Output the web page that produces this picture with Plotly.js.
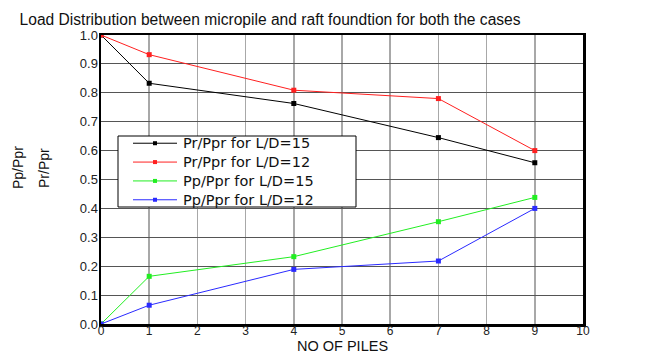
<!DOCTYPE html>
<html>
<head>
<meta charset="utf-8">
<script src="https://cdn.plot.ly/plotly-3.0.1.min.js"></script>
<style>
  html, body { margin: 0; padding: 0; background: #fff; }
  #chart { width: 652px; height: 353px; }
</style>
</head>
<body>
<div id="chart"></div>
<script>
// Number of piles and load shares (raft share Pr/Ppr, pile share Pp/Ppr)
const piles = [0, 1, 4, 7, 9];
const prLD15 = [1.0, 0.833, 0.763, 0.645, 0.558];
const prLD12 = [1.0, 0.932, 0.809, 0.780, 0.600];
const ppLD15 = [0.0, 0.165, 0.233, 0.354, 0.438];
const ppLD12 = [0.0, 0.065, 0.189, 0.218, 0.400];

const seriesNames = [
  'Pr/Ppr for L/D=15',
  'Pr/Ppr for L/D=12',
  'Pp/Ppr for L/D=15',
  'Pp/Ppr for L/D=12'
];
const seriesValues = [prLD15, prLD12, ppLD15, ppLD12];
const seriesColors = ['#000000', '#ff2020', '#22ee22', '#2a2aff'];

const traces = seriesValues.map((vals, i) => ({
  x: piles,
  y: vals,
  name: seriesNames[i],
  type: 'scatter',
  mode: 'lines+markers',
  line: { color: seriesColors[i], width: 1 },
  marker: { symbol: 'square', size: 5, color: seriesColors[i] },
  showlegend: false
}));

// Plot area in pixels, used to place the boxed key in paper units
const M = { l: 101, r: 69, t: 35, b: 29 };
const W = 652, H = 353;
const plotW = W - M.l - M.r, plotH = H - M.t - M.b;
const px = v => (v - M.l) / plotW;
const py = v => (H - M.b - v) / plotH;

const sansFont = 'Liberation Sans, Arial, sans-serif';

// Boxed key: frame, then one sample line + square marker per text row
const keyBox = { left: 118, top: 136, right: 356, bottom: 207 };
const keyFontSize = 14.5;
const keyLineH = keyFontSize * 1.3;
const keyMid = (keyBox.top + keyBox.bottom) / 2;
const keyRows = seriesNames.map((_, i) => keyMid + (i - 1.5) * keyLineH);

const shapes = [{
  type: 'rect', xref: 'paper', yref: 'paper', layer: 'above',
  x0: px(keyBox.left), x1: px(keyBox.right),
  y0: py(keyBox.bottom), y1: py(keyBox.top),
  fillcolor: '#ffffff', line: { color: '#000000', width: 1 }
}];
seriesNames.forEach((name, i) => {
  const yy = py(keyRows[i]);
  shapes.push({
    type: 'line', xref: 'paper', yref: 'paper', layer: 'above',
    x0: px(133), x1: px(177), y0: yy, y1: yy,
    line: { color: seriesColors[i], width: 1 }
  });
  shapes.push({
    type: 'rect', xref: 'paper', yref: 'paper', layer: 'above',
    xsizemode: 'pixel', ysizemode: 'pixel',
    xanchor: px(155), yanchor: yy,
    x0: -2, x1: 2, y0: -2, y1: 2,
    fillcolor: seriesColors[i], line: { width: 0 }
  });
});

const annotations = [
  {
    // key labels, one per line
    xref: 'paper', yref: 'paper', x: px(182), y: py(keyMid),
    xanchor: 'left', yanchor: 'middle', align: 'left', showarrow: false,
    borderpad: 0,
    text: seriesNames.join('<br>'),
    font: { family: 'DejaVu Sans, sans-serif', size: keyFontSize, color: '#111' }
  },
  {
    xref: 'paper', yref: 'paper', x: px(18), y: py(168),
    text: 'Pp/Ppr', textangle: -90, showarrow: false,
    xanchor: 'center', yanchor: 'middle',
    font: { family: sansFont, size: 14, color: '#111' }
  },
  {
    xref: 'paper', yref: 'paper', x: px(44), y: py(168),
    text: 'Pr/Ppr', textangle: -90, showarrow: false,
    xanchor: 'center', yanchor: 'middle',
    font: { family: sansFont, size: 14, color: '#111' }
  },
  {
    xref: 'paper', yref: 'paper', x: 0.5, y: py(345.5),
    text: 'NO OF PILES', showarrow: false, borderpad: 0,
    xanchor: 'center', yanchor: 'middle',
    font: { family: sansFont, size: 14.5, color: '#111' }
  }
];

const layout = {
  width: W,
  height: H,
  margin: M,
  paper_bgcolor: '#ffffff',
  plot_bgcolor: '#ffffff',
  title: {
    text: 'Load Distribution between micropile and raft foundtion for both the cases',
    font: { family: sansFont, size: 15.6, color: '#111' },
    x: 0.03, xanchor: 'left',
    y: 0.945, yanchor: 'middle'
  },
  xaxis: {
    range: [0, 10],
    dtick: 1,
    tick0: 0,
    showgrid: true,
    gridcolor: '#a8a8a8',
    gridwidth: 1.5,
    zeroline: false,
    showline: true,
    linecolor: '#000',
    linewidth: 2.5,
    mirror: true,
    ticks: '',
    ticklabelstandoff: -6,
    tickfont: { family: sansFont, size: 12, color: '#222' }
  },
  yaxis: {
    range: [0, 1],
    dtick: 0.1,
    tick0: 0,
    tickformat: '.1f',
    showgrid: true,
    gridcolor: '#555555',
    gridwidth: 1,
    zeroline: false,
    showline: true,
    linecolor: '#000',
    linewidth: 2.5,
    mirror: true,
    ticks: '',
    ticklabelstandoff: -2,
    tickfont: { family: sansFont, size: 13, color: '#222' }
  },
  showlegend: false,
  shapes: shapes,
  annotations: annotations
};

Plotly.newPlot('chart', traces, layout, { displayModeBar: false, staticPlot: true });
</script>
</body>
</html>
